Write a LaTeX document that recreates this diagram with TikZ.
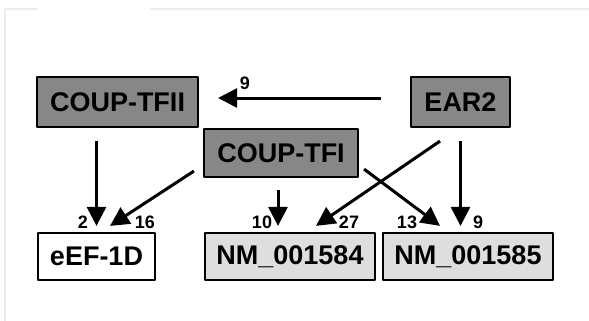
\documentclass[tikz,border=0pt]{standalone}
\usepackage{fontspec}
\setmainfont{Liberation Sans}
\usetikzlibrary{arrows.meta,calc}
\begin{document}
\begin{tikzpicture}[x=0.5pt,y=-0.5pt,line join=round,
		box/.style={draw,line width=1.1pt,inner sep=0pt,font=\fontsize{13.5}{16}\selectfont\bfseries},
		dark/.style={box,fill=black!47},
		light/.style={box,fill=black!13},
		num/.style={inner sep=0pt,font=\fontsize{9}{10}\selectfont\bfseries},
		arr/.style={line width=1.5pt,-{Triangle[length=9.5pt,width=9.5pt]}}]
		\useasboundingbox (0,0) rectangle (589,321);
		\draw[black!7,line width=0.6pt] (5,321)--(5,9)--(37,9) (150,9)--(589,9);
		% boxes
		\node[dark,minimum width=80.5pt,minimum height=25pt] (tfii) at (117.5,102) {COUP-TFII};
		\node[dark,minimum width=77pt,minimum height=24pt] (tfi) at (281,153) {COUP-TFI};
		\node[dark,minimum width=49.5pt,minimum height=25pt] (ear) at (460.5,102) {EAR2};
		\node[box,minimum width=58.5pt,minimum height=23.5pt] (eef) at (96.5,256.5) {eEF-1D};
		\node[light,minimum width=85pt,minimum height=23.5pt] (nma) at (290,256.5) {NM\_001584};
		\node[light,minimum width=85pt,minimum height=23.5pt] (nmb) at (468,256.5) {NM\_001585};
		% arrows
		\draw[arr,shorten <=14.5pt,shorten >=9.5pt] ([yshift=2pt]ear.west)--([yshift=2pt]tfii.east);
		\draw[arr,shorten <=6.5pt,shorten >=3pt] (tfii.south -| eef.north)--(eef.north);
		\draw[arr] ($(tfi.south west)+(-9,-7)$)--($(eef.north)+(13.5,-6)$);
		\draw[arr,shorten <=6pt,shorten >=3pt] ([xshift=-1.5pt]tfi.south)--([xshift=-1.5pt]tfi.south |- nma.north);
		\draw[arr] ($(ear.south)+(-20.5,13)$)--($(nma.north)+(26,-6)$);
		\draw[arr] ($(tfi.south east)+(5,-9)$)--($(nmb.north)+(-28,-6)$);
		\draw[arr,shorten <=6.5pt,shorten >=3pt] (ear.south)--(ear.south |- nmb.north);
		% numbers
		\node[num] (n9a) at (245,83) {9};
		\foreach \n/\x/\t in {a/83/2,b/145/16,c/262/10,d/349/27,e/407/13,f/478/9}
			\node[num] (l\n) at (\x,222) {\t};
	\end{tikzpicture}
\end{document}
